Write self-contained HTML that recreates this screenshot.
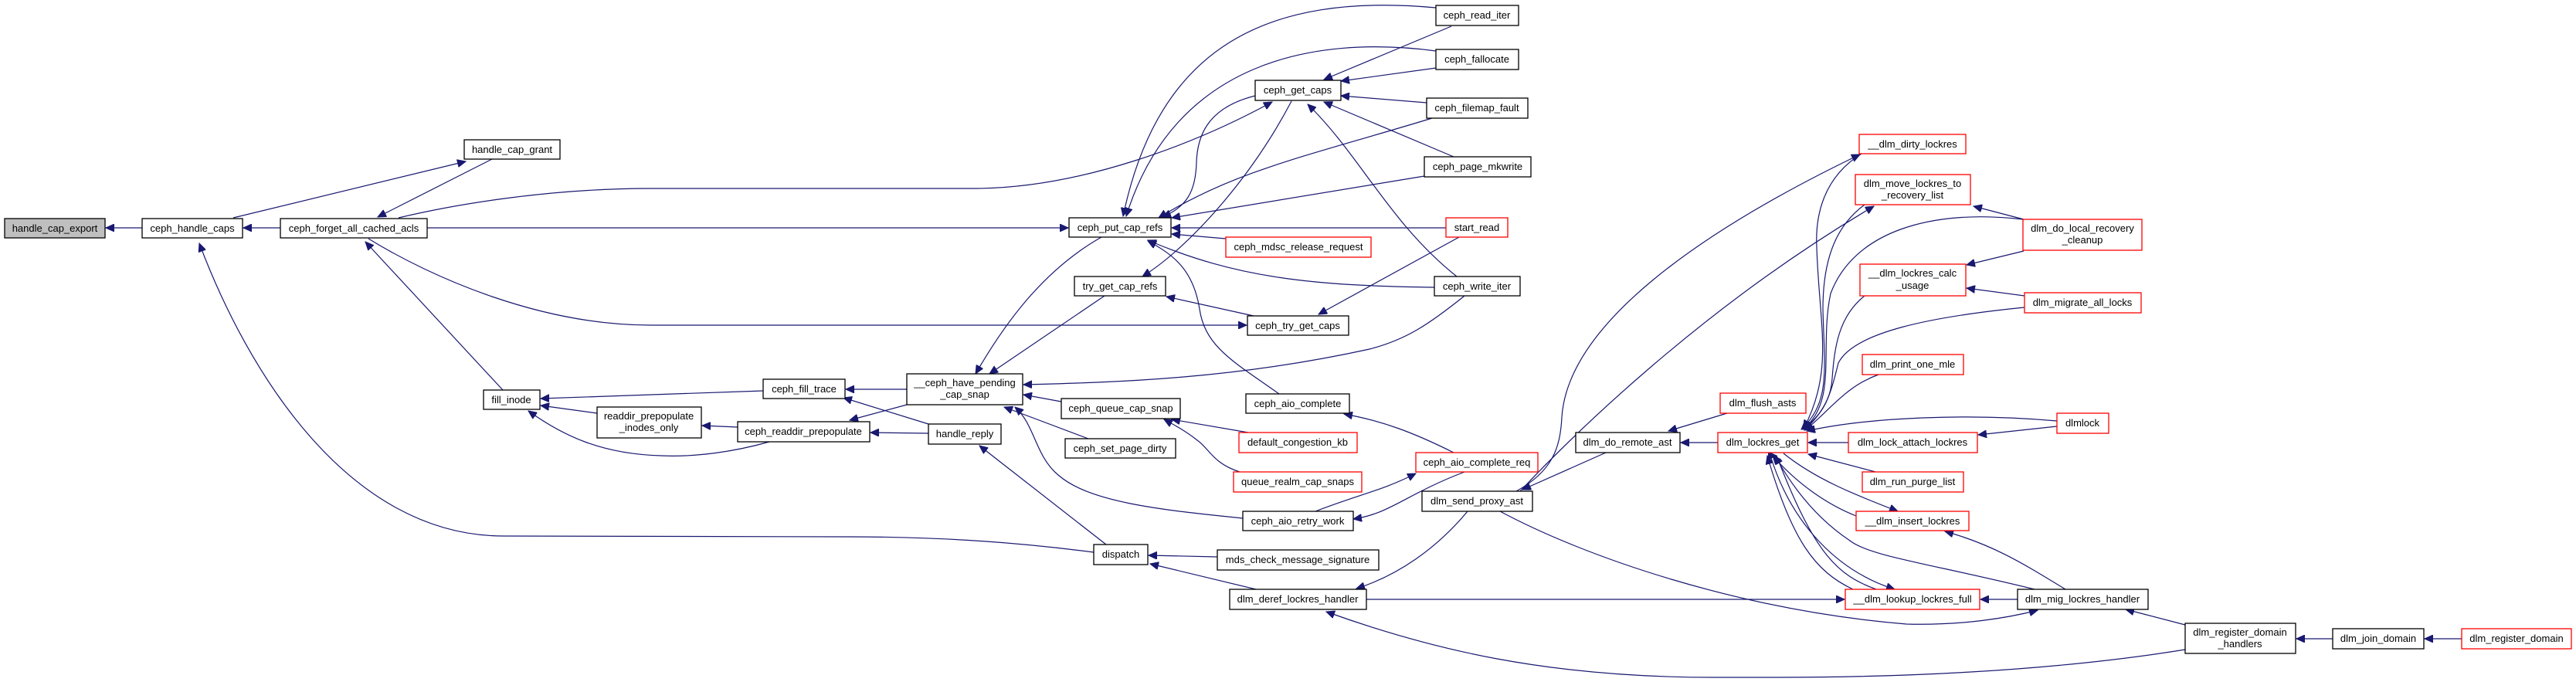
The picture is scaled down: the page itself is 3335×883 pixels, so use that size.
<!DOCTYPE html>
<html><head><meta charset="utf-8"><style>
html,body{margin:0;padding:0;background:#fff;}
svg{display:block;}
text{font-family:"Liberation Sans",Arial,sans-serif;font-size:13px;fill:#000;text-anchor:middle;}
.e{fill:none;stroke:#191970;stroke-width:1.2;marker-end:url(#a);}
.n{fill:#fff;stroke:#000;stroke-width:1.3;}
.r{fill:#fff;stroke:#ff0000;stroke-width:1.3;}
.g{fill:#bfbfbf;stroke:#000;stroke-width:1.3;}
</style></head><body>
<svg width="3335" height="883" viewBox="0 0 3335 883" xmlns="http://www.w3.org/2000/svg">
<defs><marker id="a" markerUnits="userSpaceOnUse" markerWidth="12" markerHeight="10" refX="11" refY="5" orient="auto"><path d="M0,0 L11,5 L0,10 Z" fill="#191970" stroke="#191970"/></marker></defs>
<!-- edges -->
<path class="e" d="M184,295 L137,295"/>
<path class="e" d="M363,295 L315,295"/>
<path class="e" d="M302,282 L603,209"/>
<path class="e" d="M637,206 L489,281"/>
<path class="e" d="M516,282 C600,262 720,244 842,244 L1261,244 C1400,244 1550,185 1647,132"/>
<path class="e" d="M553,295 L1383,295"/>
<path class="e" d="M477,309 C560,360 700,421 842,421 L1614,421"/>
<path class="e" d="M651,505 L473,313"/>
<path class="e" d="M1416,715 C1300,700 1200,695 1100,695 L652,694 C450,694 320,480 258,315"/>
<path class="e" d="M988,506 L700,516"/>
<path class="e" d="M773,535 L700,525"/>
<path class="e" d="M955,553 L909,551"/>
<path class="e" d="M996,572 C950,585 900,592 856,590 C780,588 730,565 684,532"/>
<path class="e" d="M1174,504 L1095,504"/>
<path class="e" d="M1202,549 L1092,515"/>
<path class="e" d="M1174,524 L1100,544"/>
<path class="e" d="M1202,561 L1127,560"/>
<path class="e" d="M1432,705 L1268,577"/>
<path class="e" d="M1859,10 C1640,-10 1500,60 1454,280"/>
<path class="e" d="M1879,34 L1714,103"/>
<path class="e" d="M1859,66 C1700,45 1520,80 1458,280"/>
<path class="e" d="M1859,88 L1736,105"/>
<path class="e" d="M1847,133 L1736,124"/>
<path class="e" d="M1854,153 C1700,200 1600,220 1500,282"/>
<path class="e" d="M1882,203 L1714,132"/>
<path class="e" d="M1844,228 L1517,282"/>
<path class="e" d="M1625,124 C1560,140 1550,180 1549,210 C1548,250 1535,268 1505,281"/>
<path class="e" d="M1672,131 C1620,230 1540,320 1479,358"/>
<path class="e" d="M1886,358 C1800,290 1760,200 1693,135"/>
<path class="e" d="M1872,295 L1517,295"/>
<path class="e" d="M1587,309 L1517,303"/>
<path class="e" d="M1857,372 C1700,370 1600,360 1486,311"/>
<path class="e" d="M1889,307 L1707,407"/>
<path class="e" d="M1623,409 L1510,384"/>
<path class="e" d="M1656,510 C1600,470 1560,450 1553,400 C1545,350 1520,330 1486,312"/>
<path class="e" d="M1426,307 C1350,350 1300,420 1263,484"/>
<path class="e" d="M1430,383 L1281,484"/>
<path class="e" d="M1896,383 C1850,420 1820,440 1773,452 C1600,490 1450,495 1325,498"/>
<path class="e" d="M1374,520 L1325,511"/>
<path class="e" d="M1409,568 L1300,527"/>
<path class="e" d="M1609,671 C1500,660 1410,650 1370,615 C1340,590 1340,550 1314,527"/>
<path class="e" d="M1616,560 L1517,543"/>
<path class="e" d="M1605,611 C1570,600 1565,580 1550,570 C1535,558 1520,550 1507,543"/>
<path class="e" d="M1882,586 C1830,560 1790,545 1740,536"/>
<path class="e" d="M1703,662 C1760,640 1790,635 1833,613"/>
<path class="e" d="M1896,611 C1820,640 1800,665 1752,672"/>
<path class="e" d="M1963,636 C2010,610 2020,580 2022,540 C2030,420 2200,300 2408,200"/>
<path class="e" d="M1968,636 C2030,570 2200,400 2426,267"/>
<path class="e" d="M2079,586 L1971,634"/>
<path class="e" d="M1576,721 L1487,719"/>
<path class="e" d="M1626,763 L1489,730"/>
<path class="e" d="M1900,662 C1860,710 1810,745 1756,762"/>
<path class="e" d="M1769,776 L2388,776"/>
<path class="e" d="M2829,841 C2650,870 2450,877 2300,877 L2218,877 C2000,877 1850,840 1717,792"/>
<path class="e" d="M1942,662 C2050,720 2250,790 2468,808 C2540,810 2600,800 2638,790"/>
<path class="e" d="M2224,573 L2176,573"/>
<path class="e" d="M2236,535 L2160,558"/>
<path class="e" d="M2410,199 C2360,230 2350,280 2352,320 C2355,420 2375,480 2335,555"/>
<path class="e" d="M2414,265 C2380,290 2360,330 2360,400 C2362,480 2370,520 2332,556"/>
<path class="e" d="M2620,284 L2555,267"/>
<path class="e" d="M2619,284 C2500,270 2400,300 2370,380 C2355,450 2380,520 2334,556"/>
<path class="e" d="M2620,325 L2546,343"/>
<path class="e" d="M2621,383 L2546,373"/>
<path class="e" d="M2621,398 C2500,410 2400,430 2380,470 C2370,510 2365,530 2336,557"/>
<path class="e" d="M2414,383 C2380,410 2375,450 2372,490 C2370,520 2355,540 2334,556"/>
<path class="e" d="M2432,485 C2390,500 2370,530 2337,557"/>
<path class="e" d="M2663,545 C2550,535 2420,540 2339,558"/>
<path class="e" d="M2663,552 L2561,563"/>
<path class="e" d="M2393,573 L2341,573"/>
<path class="e" d="M2428,611 L2341,588"/>
<path class="e" d="M2309,587 C2350,620 2400,640 2457,662"/>
<path class="e" d="M2403,668 C2370,655 2330,630 2295,590"/>
<path class="e" d="M2399,763 C2350,740 2320,700 2288,590"/>
<path class="e" d="M2429,763 C2380,745 2350,720 2300,590 M2300,590"/>
<path class="e" d="M2292,590 C2320,680 2380,740 2453,763"/>
<path class="e" d="M2634,763 C2500,730 2420,720 2395,700 C2350,670 2320,630 2298,590"/>
<path class="e" d="M2674,763 C2620,730 2580,705 2518,688"/>
<path class="e" d="M2612,776 L2564,776"/>
<path class="e" d="M2829,809 L2752,789"/>
<path class="e" d="M3020,827 L2973,827"/>
<path class="e" d="M3187,827 L3139,827"/>
<!-- nodes -->
<rect class="g" x="6" y="283" width="130" height="25"/><text x="71" y="300">handle_cap_export</text>
<rect class="n" x="184" y="283" width="130" height="25"/><text x="249" y="300">ceph_handle_caps</text>
<rect class="n" x="363" y="283" width="190" height="25"/><text x="458" y="300">ceph_forget_all_cached_acls</text>
<rect class="n" x="601" y="181" width="124" height="25"/><text x="663" y="198">handle_cap_grant</text>
<rect class="n" x="626" y="505" width="73" height="25"/><text x="662" y="522">fill_inode</text>
<rect class="n" x="773" y="527" width="135" height="40"/><text x="840" y="543">readdir_prepopulate</text><text x="840" y="558">_inodes_only</text>
<rect class="n" x="988" y="491" width="106" height="25"/><text x="1041" y="508">ceph_fill_trace</text>
<rect class="n" x="955" y="546" width="171" height="26"/><text x="1040" y="563">ceph_readdir_prepopulate</text>
<rect class="n" x="1859" y="7" width="107" height="26"/><text x="1912" y="24">ceph_read_iter</text>
<rect class="n" x="1859" y="64" width="107" height="26"/><text x="1912" y="81">ceph_fallocate</text>
<rect class="n" x="1625" y="104" width="111" height="26"/><text x="1680" y="121">ceph_get_caps</text>
<rect class="n" x="1847" y="127" width="131" height="26"/><text x="1912" y="144">ceph_filemap_fault</text>
<rect class="n" x="1844" y="203" width="138" height="26"/><text x="1913" y="220">ceph_page_mkwrite</text>
<rect class="n" x="1384" y="282" width="132" height="25"/><text x="1450" y="299">ceph_put_cap_refs</text>
<rect class="r" x="1872" y="282" width="80" height="25"/><text x="1912" y="299">start_read</text>
<rect class="r" x="1587" y="307" width="188" height="26"/><text x="1681" y="324">ceph_mdsc_release_request</text>
<rect class="n" x="1391" y="358" width="118" height="25"/><text x="1450" y="375">try_get_cap_refs</text>
<rect class="n" x="1857" y="358" width="111" height="25"/><text x="1912" y="375">ceph_write_iter</text>
<rect class="n" x="1615" y="409" width="131" height="25"/><text x="1680" y="426">ceph_try_get_caps</text>
<rect class="n" x="1174" y="484" width="150" height="40"/><text x="1249" y="500">__ceph_have_pending</text><text x="1249" y="515">_cap_snap</text>
<rect class="n" x="1613" y="510" width="134" height="25"/><text x="1680" y="527">ceph_aio_complete</text>
<rect class="n" x="1374" y="516" width="154" height="26"/><text x="1451" y="533">ceph_queue_cap_snap</text>
<rect class="n" x="1379" y="568" width="143" height="25"/><text x="1450" y="585">ceph_set_page_dirty</text>
<rect class="n" x="1202" y="549" width="94" height="26"/><text x="1249" y="566">handle_reply</text>
<rect class="r" x="1604" y="560" width="153" height="26"/><text x="1680" y="577">default_congestion_kb</text>
<rect class="r" x="1597" y="611" width="166" height="26"/><text x="1680" y="628">queue_realm_cap_snaps</text>
<rect class="r" x="1833" y="586" width="158" height="25"/><text x="1912" y="603">ceph_aio_complete_req</text>
<rect class="n" x="1609" y="662" width="143" height="25"/><text x="1680" y="679">ceph_aio_retry_work</text>
<rect class="n" x="1841" y="636" width="143" height="26"/><text x="1912" y="653">dlm_send_proxy_ast</text>
<rect class="n" x="2040" y="560" width="135" height="26"/><text x="2107" y="577">dlm_do_remote_ast</text>
<rect class="n" x="1416" y="705" width="70" height="26"/><text x="1451" y="722">dispatch</text>
<rect class="n" x="1576" y="712" width="209" height="26"/><text x="1680" y="729">mds_check_message_signature</text>
<rect class="n" x="1592" y="763" width="177" height="26"/><text x="1680" y="780">dlm_deref_lockres_handler</text>
<rect class="r" x="2407" y="174" width="138" height="25"/><text x="2476" y="191">__dlm_dirty_lockres</text>
<rect class="r" x="2402" y="226" width="149" height="39"/><text x="2476" y="242">dlm_move_lockres_to</text><text x="2476" y="257">_recovery_list</text>
<rect class="r" x="2619" y="284" width="154" height="40"/><text x="2696" y="300">dlm_do_local_recovery</text><text x="2696" y="315">_cleanup</text>
<rect class="r" x="2408" y="342" width="137" height="41"/><text x="2476" y="358">__dlm_lockres_calc</text><text x="2476" y="374">_usage</text>
<rect class="r" x="2621" y="379" width="151" height="26"/><text x="2696" y="396">dlm_migrate_all_locks</text>
<rect class="r" x="2411" y="459" width="131" height="26"/><text x="2476" y="476">dlm_print_one_mle</text>
<rect class="r" x="2227" y="509" width="111" height="26"/><text x="2282" y="526">dlm_flush_asts</text>
<rect class="r" x="2663" y="535" width="67" height="26"/><text x="2696" y="552">dlmlock</text>
<rect class="r" x="2224" y="560" width="116" height="26"/><text x="2282" y="577">dlm_lockres_get</text>
<rect class="r" x="2393" y="560" width="167" height="26"/><text x="2476" y="577">dlm_lock_attach_lockres</text>
<rect class="r" x="2411" y="611" width="131" height="26"/><text x="2476" y="628">dlm_run_purge_list</text>
<rect class="r" x="2403" y="662" width="146" height="25"/><text x="2476" y="679">__dlm_insert_lockres</text>
<rect class="r" x="2389" y="763" width="174" height="26"/><text x="2476" y="780">__dlm_lookup_lockres_full</text>
<rect class="n" x="2612" y="763" width="169" height="26"/><text x="2696" y="780">dlm_mig_lockres_handler</text>
<rect class="n" x="2829" y="807" width="143" height="39"/><text x="2900" y="823">dlm_register_domain</text><text x="2900" y="838">_handlers</text>
<rect class="n" x="3020" y="814" width="118" height="26"/><text x="3079" y="831">dlm_join_domain</text>
<rect class="r" x="3187" y="814" width="142" height="26"/><text x="3258" y="831">dlm_register_domain</text>
</svg>
</body></html>
